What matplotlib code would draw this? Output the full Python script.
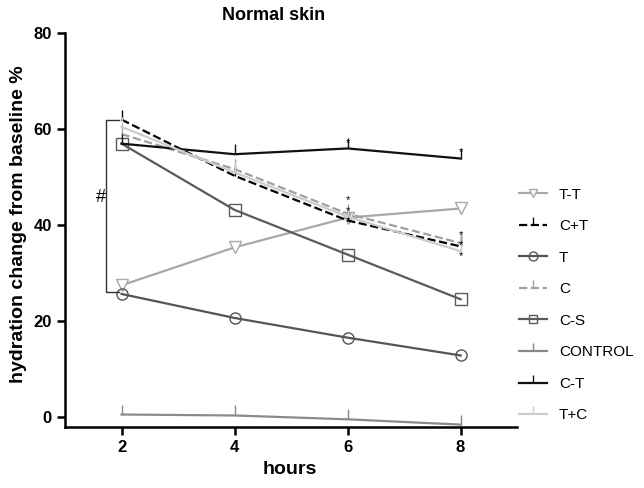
import numpy as np
import matplotlib
matplotlib.use('Agg')
import matplotlib.pyplot as plt

plt.rcParams['font.family'] = ['Liberation Sans', 'DejaVu Sans']

# Daten
hours = [2, 4, 6, 8]
tt = [27.5, 35.4, 41.6, 43.5]
c_plus_t = [62.0, 50.3, 41.0, 35.6]
t = [25.7, 20.7, 16.6, 12.9]
c = [59.0, 51.7, 42.4, 36.3]
cs = [57.0, 43.2, 33.9, 24.6]
control = [0.6, 0.4, -0.4, -1.5]
ct = [57.0, 54.8, 56.0, 53.9]
t_plus_c = [60.5, 51.0, 41.8, 34.6]

star_x = [6, 6, 6, 8, 8, 8, 6, 8]
star_y = [45.2, 43.0, 40.8, 38.0, 35.8, 33.6, 57.2, 55.3]

bracket_lo, bracket_hi = 26.2, 62.0

fsize = 11

fig = plt.figure(figsize=(6.44, 4.88), dpi=100)
ax = fig.add_axes([0.101, 0.125, 0.702, 0.807])

ax.plot(hours, tt, color='#a8a8a8', marker='v', mfc='white', ms=8, lw=1.6, label='T-T')
ax.plot(hours, c_plus_t, color='black', ls='--', marker=2, ms=7, lw=1.6, label='C+T')
ax.plot(hours, t, color='#555555', marker='o', mfc='none', ms=8, lw=1.6, label='T')
ax.plot(hours, c, color='#a0a0a0', ls='--', marker=2, ms=7, lw=1.6, label='C')
ax.plot(hours, cs, color='#5a5a5a', marker='s', mfc='none', ms=8, lw=1.6, label='C-S')
ax.plot(hours, control, color='#8a8a8a', marker=2, ms=7, lw=1.6, label='CONTROL')
ax.plot(hours, ct, color='#111111', marker=2, ms=7, lw=1.6, label='C-T')
ax.plot(hours, t_plus_c, color='#cccccc', marker=2, ms=7, lw=1.6, label='T+C')

for sx, sy in zip(star_x, star_y):
    ax.text(sx, sy, '*', ha='center', va='center', fontsize=8)

# Klammer mit #
ax.plot([1.96, 1.73, 1.73, 1.96], [bracket_hi, bracket_hi, bracket_lo, bracket_lo],
        color='#333333', lw=1)
ax.text(1.64, 45.7, '#', ha='center', va='center', fontsize=13)

ax.set_xlim(1, 9)
ax.set_ylim(-2, 80)
ax.set_xticks([2, 4, 6, 8])
ax.set_yticks([0, 20, 40, 60, 80])
ax.spines['top'].set_visible(False)
ax.spines['right'].set_visible(False)
ax.spines['left'].set_linewidth(1.8)
ax.spines['bottom'].set_linewidth(1.8)
ax.tick_params(axis='both', width=1.8, length=6, labelsize=12)
for lab in ax.get_xticklabels() + ax.get_yticklabels():
    lab.set_fontweight('bold')

fig.text(0.425, 0.968, 'Normal skin', ha='center', va='center', fontsize=13, fontweight='bold')
fig.text(0.45, 0.037, 'hours', ha='center', va='center', fontsize=14, fontweight='bold')
fig.text(0.028, 0.54, 'hydration change from baseline %', ha='center', va='center',
         rotation=90, fontsize=14, fontweight='bold')

fig.legend(loc='center left', bbox_to_anchor=(0.785, 0.375), frameon=False,
           fontsize=fsize, labelspacing=1.15, handlelength=1.8, markerscale=0.8)

fig.savefig('out.png', dpi=100)
